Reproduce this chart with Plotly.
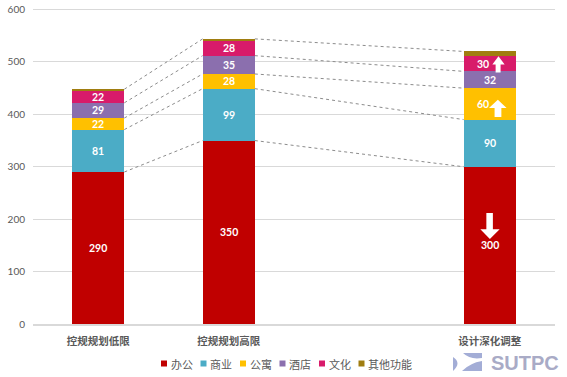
import plotly.graph_objects as go
import numpy as np

categories = ["控规规划低限", "控规规划高限", "设计深化调整"]
slot_index = [0, 1, 3]
series_names = ["办公", "商业", "公寓", "酒店", "文化", "其他功能"]
office = [290, 350, 300]
commerce = [81, 99, 90]
apartment = [22, 28, 60]
hotel = [29, 35, 32]
culture = [22, 28, 30]
other = [4, 4, 8]
y_ticks = [0, 100, 200, 300, 400, 500, 600]
colors = ["#C00000", "#4BACC6", "#FFC000", "#8B6FAE", "#D81B6A", "#A07D10"]

series = [office, commerce, apartment, hotel, culture, other]
W, H = 567, 377
L, R, T, B = 33, 12, 9, 53
YMAX = 601
BW = 0.4

fig = go.Figure()
for name, vals, c in zip(series_names, series, colors):
    fig.add_trace(go.Bar(x=slot_index, y=vals, name=name, marker_color=c,
                         marker_line_width=0, width=BW, showlegend=False,
                         hoverinfo="skip"))

cum = np.cumsum(np.array(series, dtype=float), axis=0)
# connector lines: tops of office, commerce, apartment, hotel, and total
for k in [0, 1, 2, 3, 5]:
    for i in range(len(slot_index) - 1):
        fig.add_trace(go.Scatter(
            x=[slot_index[i] + BW / 2, slot_index[i + 1] - BW / 2],
            y=[cum[k][i], cum[k][i + 1]], mode="lines",
            line=dict(color="#8c8c8c", width=1, dash="dot"),
            showlegend=False, hoverinfo="skip"))

annotations = []
# data labels (skip 其他功能)
for k in range(5):
    for i, xi in enumerate(slot_index):
        base = cum[k - 1][i] if k > 0 else 0
        yc = base + series[k][i] / 2
        xshift = -7 if (i == 2 and k in (2, 4)) else 0
        annotations.append(dict(x=xi, y=yc, xref="x", yref="y",
                                text="<b>%d</b>" % series[k][i], showarrow=False,
                                xshift=xshift,
                                font=dict(family="Lato, Open Sans, sans-serif",
                                          size=10.5, color="white")))

def px2paper(px, py):
    return (px - L) / (W - L - R), (H - B - py) / (H - B - T)

shapes = []
# top gridline (explicit, so it is not dropped at the plot edge)
shapes.append(dict(type="line", xref="paper", yref="y", x0=0, x1=1,
                   y0=y_ticks[-1], y1=y_ticks[-1], line=dict(color="#D9D9D9", width=1),
                   layer="below"))
# arrows (decorations) in bar 3
arrows = [
    "M 2.974,212 L 3.024,212 L 3.024,181 L 3.076,181 L 3.001,162 L 2.928,181 L 2.974,181 Z",
    "M 3.037,395 L 3.089,395 L 3.089,412 L 3.129,412 L 3.062,428 L 2.994,412 L 3.037,412 Z",
    "M 3.045,480 L 3.083,480 L 3.083,495 L 3.114,495 L 3.067,511 L 3.020,495 L 3.045,495 Z",
]
for p in arrows:
    shapes.append(dict(type="path", path=p, xref="x", yref="y",
                       fillcolor="white", line=dict(width=0)))

# custom legend
leg_px = [161, 200.5, 240, 279.5, 319, 358.5]
for name, c, px in zip(series_names, colors, leg_px):
    x0, y0 = px2paper(px, 360.5)
    x1, y1 = px2paper(px + 6, 366.5)
    shapes.append(dict(type="rect", xref="paper", yref="paper",
                       x0=x0, x1=x1, y0=y1, y1=y0, fillcolor=c, line=dict(width=0)))
    tx, ty = px2paper(px + 7.5, 363.5)
    annotations.append(dict(x=tx, y=ty, xref="paper", yref="paper", text=name,
                            showarrow=False, xanchor="left", yanchor="middle",
                            font=dict(family="Noto Sans CJK SC", size=11, color="#595959")))

# logo
lx0, ly0 = px2paper(453, 353)
lx1, ly1 = px2paper(482, 371)
shapes.append(dict(type="rect", xref="paper", yref="paper", x0=lx0, x1=lx1,
                   y0=ly1, y1=ly0, fillcolor="#A3ADD6", line=dict(width=0)))
def pp(px, py):
    a, b = px2paper(px, py)
    return "%.4f,%.4f" % (a, b)
wave = ("M " + pp(453, 353) + " L " + pp(463, 353) + " Q " + pp(470, 360) + " " + pp(482, 358)
        + " L " + pp(482, 361) + " Q " + pp(470, 363) + " " + pp(462, 371)
        + " L " + pp(453, 371) + " Q " + pp(462, 363) + " " + pp(453, 357) + " Z")
shapes.append(dict(type="path", xref="paper", yref="paper", path=wave,
                   fillcolor="white", line=dict(width=0)))
sx, sy = px2paper(489, 362.5)
annotations.append(dict(x=sx, y=sy, xref="paper", yref="paper", text="<b>SUTPC</b>",
                        showarrow=False, xanchor="left", yanchor="middle",
                        font=dict(family="Liberation Sans, Arial", size=20, color="#A9ABC6")))

fig.update_layout(
    barmode="stack",
    width=W, height=H,
    margin=dict(l=L, r=R, t=T, b=B, autoexpand=False),
    paper_bgcolor="white", plot_bgcolor="white",
    showlegend=False,
    annotations=annotations,
    shapes=shapes,
    xaxis=dict(range=[-0.5, 3.5], tickmode="array", tickvals=slot_index,
               ticktext=["<b>%s</b>" % c for c in categories],
               showgrid=False, zeroline=False, showline=True,
               linecolor="#D9D9D9", linewidth=1.5, ticks="",
               ticklabelstandoff=7, automargin=False,
               tickfont=dict(family="Noto Sans CJK SC", size=10.5, color="#595959"),
               fixedrange=True),
    yaxis=dict(range=[0, YMAX], tickvals=y_ticks,
               showgrid=True, gridcolor="#D9D9D9",
               gridwidth=1, zeroline=False, showline=False, ticks="",
               ticklabelstandoff=7, automargin=False,
               tickfont=dict(family="Lato, Open Sans, sans-serif", size=10, color="#595959"),
               fixedrange=True),
)

fig.write_html("out.html", config={"displayModeBar": False, "staticPlot": True},
               post_script="document.body.style.margin='0';document.body.style.overflow='hidden';")
